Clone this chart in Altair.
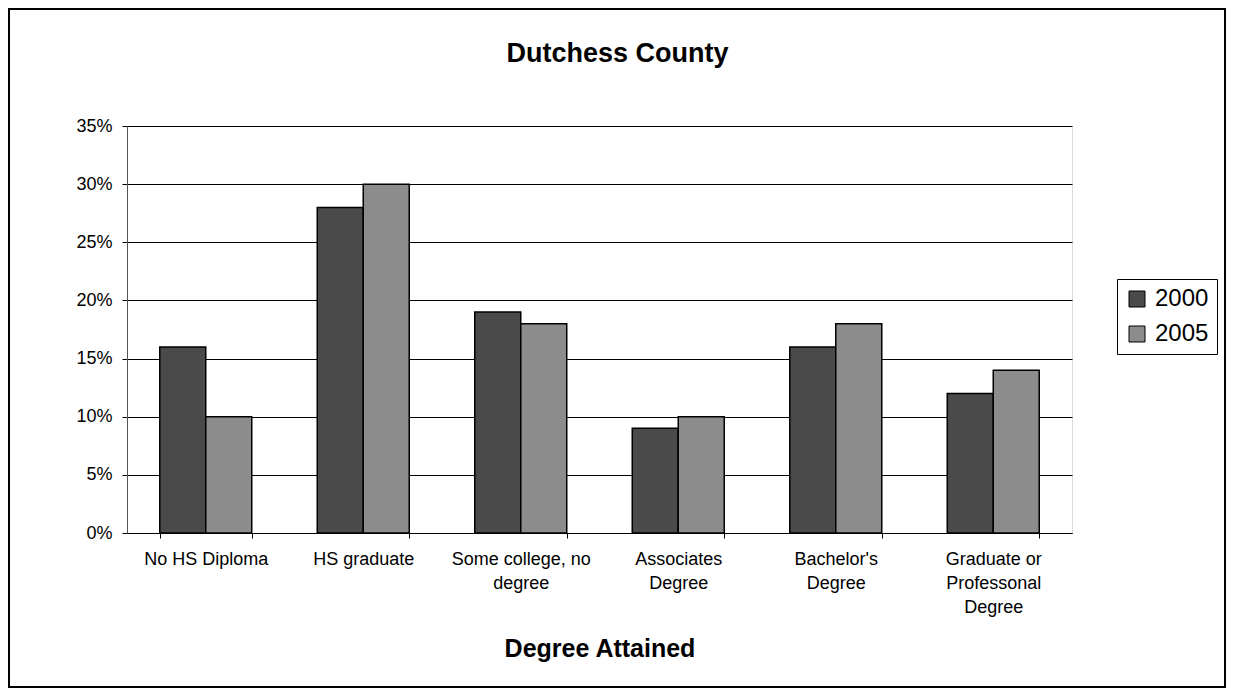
import altair as alt
import pandas as pd

categories = [
    "No HS Diploma",
    "HS graduate",
    "Some college, no\ndegree",
    "Associates\nDegree",
    "Bachelor's\nDegree",
    "Graduate or\nProfessonal\nDegree",
]
years = ["2000", "2005"]
values_2000 = [0.16, 0.28, 0.19, 0.09, 0.16, 0.12]
values_2005 = [0.10, 0.30, 0.18, 0.10, 0.18, 0.14]
y_ticks = [0, 0.05, 0.10, 0.15, 0.20, 0.25, 0.30, 0.35]

rows = []
for c, v in zip(categories, values_2000):
    rows.append({"category": c, "year": "2000", "value": v})
for c, v in zip(categories, values_2005):
    rows.append({"category": c, "year": "2005", "value": v})
df = pd.DataFrame(rows)

FONT = "Liberation Sans"
W, H = 945, 407
PAD = {"left": 119, "top": 118, "right": 154, "bottom": 155}

bars = alt.Chart(df).mark_bar(stroke="black", strokeWidth=1.5).encode(
    x=alt.X(
        "category:N",
        sort=categories,
        scale=alt.Scale(paddingInner=0.416, paddingOuter=0.208),
        axis=alt.Axis(
            title="Degree Attained",
            titleFont=FONT,
            titleFontSize=25,
            titleFontWeight="bold",
            titleColor="black",
            titlePadding=20,
            labelFont=FONT,
            labelFontSize=18,
            labelColor="black",
            labelAngle=0,
            labelPadding=12,
            labelLineHeight=24,
            labelExpr="split(datum.label, '\\n')",
            tickBand="extent",
            tickSize=5,
            tickColor="black",
            domainColor="black",
            grid=False,
        ),
    ),
    xOffset=alt.XOffset("year:N", sort=years, scale=alt.Scale(paddingInner=0, paddingOuter=0)),
    y=alt.Y(
        "value:Q",
        scale=alt.Scale(domain=[0, 0.35], nice=False),
        axis=alt.Axis(
            title=None,
            format=".0%",
            values=y_ticks,
            labelFont=FONT,
            labelFontSize=18,
            labelColor="black",
            labelPadding=10,
            tickSize=5,
            tickColor="black",
            domainColor="#555555",
            grid=True,
            gridColor="black",
            gridWidth=1,
        ),
    ),
    color=alt.Color(
        "year:N",
        sort=years,
        scale=alt.Scale(domain=years, range=["#4a4a4a", "#8c8c8c"]),
        legend=alt.Legend(
            title=None,
            orient="none",
            legendX=990,
            legendY=153,
            labelFont=FONT,
            labelFontSize=24,
            labelColor="black",
            labelOffset=6,
            symbolType="square",
            symbolSize=256,
            symbolStrokeColor="black",
            symbolStrokeWidth=1,
            strokeColor="black",
            fillColor="white",
            padding=8,
            rowPadding=11,
        ),
    ),
)

frame = alt.Chart(df).mark_rect(fillOpacity=0, stroke="black", strokeWidth=1.5).encode(
    x=alt.value(-PAD["left"] + 1),
    x2=alt.value(W + PAD["right"] - 1),
    y=alt.value(-PAD["top"] + 1),
    y2=alt.value(H + PAD["bottom"] - 1),
)

chart = alt.layer(bars, frame).properties(
    width=W,
    height=H,
    padding=PAD,
    autosize=alt.AutoSizeParams(type="none"),
    title=alt.TitleParams(
        "Dutchess County",
        font=FONT,
        fontSize=27,
        fontWeight="bold",
        color="black",
        anchor="middle",
        dx=18,
        offset=-60,
    ),
).configure_view(stroke="transparent").configure(background="white")

chart.save("out.html", embed_options={"renderer": "svg", "actions": False})
